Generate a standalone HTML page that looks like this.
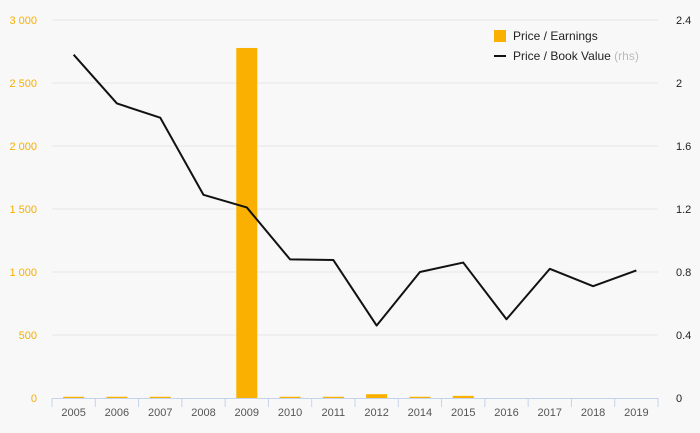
<!DOCTYPE html>
<html><head><meta charset="utf-8"><style>
body{margin:0;background:#f8f8f9;font-family:"Liberation Sans",sans-serif;}
svg{display:block}
</style></head><body>
<svg id="c" width="700" height="433"></svg>
<script>
const categories=["2005","2006","2007","2008","2009","2010","2011","2012","2014","2015","2016","2017","2018","2019"];
const peValues=[10,10,10,0,2778,10,10,30,10,17,0,0,0,0];
const pbValues=[2.18,1.87,1.78,1.29,1.21,0.88,0.876,0.46,0.8,0.86,0.5,0.82,0.71,0.81];
const leftTicks=[0,500,1000,1500,2000,2500,3000];
const leftTickLabels=["0","500","1 000","1 500","2 000","2 500","3 000"];
const rightTicks=[0,0.4,0.8,1.2,1.6,2,2.4];
const rightTickLabels=["0","0.4","0.8","1.2","1.6","2","2.4"];
const svg=document.getElementById('c');const NS='http://www.w3.org/2000/svg';
const L=52,R=658,T=20,B=398;
const bw=(R-L)/categories.length;
const x=i=>L+bw*(i+0.5);
const yl=v=>B-(v/3000)*(B-T);
const yr=v=>B-(v/2.4)*(B-T);
function mk(t,a,p){const e=document.createElementNS(NS,t);for(const k in a)e.setAttribute(k,a[k]);(p||svg).appendChild(e);return e;}
leftTicks.forEach((v,i)=>{
 if(v>0){const g=mk('line',{x1:L,x2:R,y1:yl(v),y2:yl(v),stroke:'#e6e6e6','stroke-width':1});
 
 }
 const t=mk('text',{x:37,y:yl(v)+4,'text-anchor':'end','font-size':11,fill:'#f5b000'});t.textContent=leftTickLabels[i];
 
 
});
rightTicks.forEach((v,i)=>{
 const t=mk('text',{x:676,y:yr(v)+4,'font-size':11,fill:'#222'});t.textContent=rightTickLabels[i];
 
 
});
peValues.forEach((v,i)=>{
 if(v<=0)return;
 const h=Math.max(1,B-yl(v));
 const r=mk('rect',{x:x(i)-10.5,y:B-h,width:21,height:h,fill:'#f9b000'});
 
 
});
const ax=mk('line',{x1:L,x2:R,y1:B+0.5,y2:B+0.5,stroke:'#c5d3ea','stroke-width':1});


for(let i=0;i<=categories.length;i++){
 const tk=mk('line',{x1:L+bw*i,x2:L+bw*i,y1:B,y2:B+9,stroke:'#c5d3ea'});
 
 
}
categories.forEach((c,i)=>{
 const t=mk('text',{x:x(i),y:416,'text-anchor':'middle','font-size':11,fill:'#555'});t.textContent=c;
 
 
});
const pl=mk('polyline',{points:pbValues.map((v,i)=>x(i)+','+yr(v)).join(' '),fill:'none',stroke:'#111','stroke-width':2,'stroke-linejoin':'round'});


const lg=mk('g',{});


const lr=mk('rect',{x:494,y:30,width:12,height:12,fill:'#f9b000'},lg);


const lt1=mk('text',{x:513,y:40,'font-size':12,fill:'#222'},lg);lt1.textContent='Price / Earnings';


const ll=mk('line',{x1:494,x2:506,y1:56,y2:56,stroke:'#111','stroke-width':2},lg);


const lt2=mk('text',{x:513,y:60,'font-size':12,fill:'#222'},lg);
lt2.innerHTML='Price / Book Value <tspan fill="#bbb">(rhs)</tspan>';


</script>
</body></html>
